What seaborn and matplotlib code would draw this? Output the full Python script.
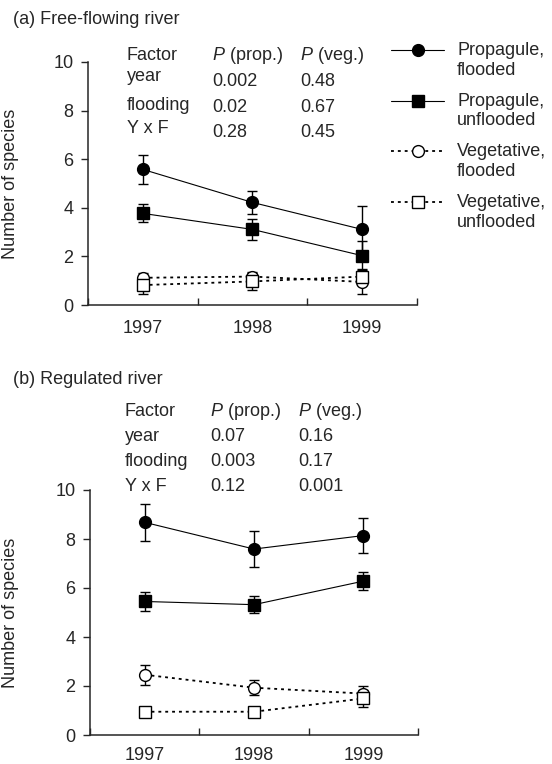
import numpy as np
import pandas as pd
import matplotlib
matplotlib.use("Agg")
import matplotlib.pyplot as plt
import seaborn as sns
from matplotlib.lines import Line2D
from matplotlib.legend_handler import HandlerLine2D

years = ["1997", "1998", "1999"]
series_names = ["Propagule,\nflooded", "Propagule,\nunflooded",
                "Vegetative,\nflooded", "Vegetative,\nunflooded"]

# (a) free-flowing river: mean number of species and error bars
free_prop_fl = [5.58, 4.22, 3.11]
free_prop_fl_err = [0.60, 0.47, 0.95]
free_prop_unfl = [3.77, 3.11, 2.03]
free_prop_unfl_err = [0.37, 0.43, 0.62]
free_veg_fl = [1.12, 1.17, 0.95]
free_veg_fl_err = [0.18, 0.17, 0.48]
free_veg_unfl = [0.82, 0.97, 1.17]
free_veg_unfl_err = [0.35, 0.35, 0.30]

# (b) regulated river
reg_prop_fl = [8.68, 7.59, 8.14]
reg_prop_fl_err = [0.76, 0.75, 0.72]
reg_prop_unfl = [5.45, 5.32, 6.28]
reg_prop_unfl_err = [0.39, 0.36, 0.36]
reg_veg_fl = [2.46, 1.93, 1.69]
reg_veg_fl_err = [0.40, 0.30, 0.30]
reg_veg_unfl = [0.95, 0.95, 1.49]
reg_veg_unfl_err = [0.10, 0.10, 0.33]

# ANOVA tables
factors = ["Factor", "year", "flooding", "Y x F"]
free_p_prop = ["0.002", "0.02", "0.28"]
free_p_veg = ["0.48", "0.67", "0.45"]
reg_p_prop = ["0.07", "0.003", "0.12"]
reg_p_veg = ["0.16", "0.17", "0.001"]

sns.set_style("ticks")
plt.rcParams["font.family"] = ["Liberation Sans", "DejaVu Sans"]
plt.rcParams["mathtext.fontset"] = "custom"
plt.rcParams["mathtext.rm"] = "Liberation Sans"
plt.rcParams["mathtext.it"] = "Liberation Sans:italic"
FS = 13

W, H = 552, 764
fig = plt.figure(figsize=(W / 100, H / 100), dpi=100)


def px_axes(left, top, right, bottom):
    return fig.add_axes([left / W, 1 - bottom / H, (right - left) / W, (bottom - top) / H])


ax_a = px_axes(88, 62, 417, 305)
ax_b = px_axes(90, 490, 418, 735)

markers = ["o", "s", "o", "s"]
faces = ["black", "black", "white", "white"]
lstyles = ["-", "-", (0, (1.6, 2.2)), (0, (1.6, 2.2))]
lwidths = [0.8, 0.8, 1.3, 1.3]


def draw_panel(ax, means, errs, xpad):
    x = np.arange(len(years)) + 0.5
    handles = []
    for i, (m, e) in enumerate(zip(means, errs)):
        ax.errorbar(x, m, yerr=e, fmt="none", ecolor="black", elinewidth=1.0,
                    capsize=3.6, capthick=1.0, zorder=2)
        df = pd.DataFrame({"x": x, "y": m})
        sns.lineplot(data=df, x="x", y="y", ax=ax, color="black",
                     linestyle=lstyles[i], linewidth=lwidths[i],
                     marker=markers[i], markersize=8.5,
                     markerfacecolor=faces[i], markeredgecolor="black",
                     markeredgewidth=1.0, zorder=3, legend=False)
        handles.append(ax.lines[-1])
    ax.set_xlim(0, len(years))
    ax.set_ylim(0, 10)
    ax.set_yticks(range(0, 11, 2))
    ax.set_xticks(np.arange(len(years) + 1))
    ax.set_xticklabels([])
    ax.set_xticks(x, minor=True)
    ax.set_xticklabels(years, minor=True)
    ax.tick_params(axis="x", which="major", direction="in", length=5, width=1.0)
    ax.tick_params(axis="x", which="minor", length=0, pad=xpad, labelsize=FS)
    ax.tick_params(axis="y", direction="out", length=5, width=1.0, pad=5.5, labelsize=FS)
    for s in ["top", "right"]:
        ax.spines[s].set_visible(False)
    for s in ["left", "bottom"]:
        ax.spines[s].set_linewidth(1.1)
    ax.set_xlabel("")
    ax.set_ylabel("Number of species", fontsize=FS)
    return handles


handles = draw_panel(ax_a, [free_prop_fl, free_prop_unfl, free_veg_fl, free_veg_unfl],
                     [free_prop_fl_err, free_prop_unfl_err, free_veg_fl_err, free_veg_unfl_err], 10.5)
draw_panel(ax_b, [reg_prop_fl, reg_prop_unfl, reg_veg_fl, reg_veg_unfl],
           [reg_prop_fl_err, reg_prop_unfl_err, reg_veg_fl_err, reg_veg_unfl_err], 8.5)
ax_a.yaxis.set_label_coords((19 - 88) / 329, 0.5)
ax_b.yaxis.set_label_coords((19 - 90) / 328, 0.5)


def ftext(px, py, s, **kw):
    fig.text(px / W, 1 - py / H, s, fontsize=FS, va="baseline", ha="left", **kw)


ftext(13, 24, "(a) Free-flowing river")
ftext(13, 384, "(b) Regulated river")


def table(col_x, rows1, rows2, prop, veg):
    for f, yb in zip(factors, rows1):
        ftext(col_x[0], yb, f)
    ftext(col_x[1], rows2[0], r"$\mathit{P}$ (prop.)")
    ftext(col_x[2], rows2[0], r"$\mathit{P}$ (veg.)")
    for p, v, yb in zip(prop, veg, rows2[1:]):
        ftext(col_x[1], yb, p)
        ftext(col_x[2], yb, v)


table([127, 212, 300], [60, 81, 110, 133], [60, 86, 112, 137], free_p_prop, free_p_veg)
table([125, 210, 298], [416, 441, 466, 491], [416, 441, 466, 491], reg_p_prop, reg_p_veg)


class TopHandler(HandlerLine2D):
    # put the marker level with the first line of a two-line label
    def create_artists(self, *args, **kwargs):
        arts = super().create_artists(*args, **kwargs)
        for a in arts:
            a.set_ydata(np.asarray(a.get_ydata()) + 0.58 * FS)
        return arts


fig.legend(handles, series_names, loc="upper left",
           bbox_to_anchor=(391 / W, 1 - 42 / H), frameon=False, fontsize=FS,
           handlelength=2.94, handletextpad=0.72, labelspacing=0.78,
           borderpad=0, borderaxespad=0, handler_map={Line2D: TopHandler()})

fig.savefig("out.png", dpi=100)
